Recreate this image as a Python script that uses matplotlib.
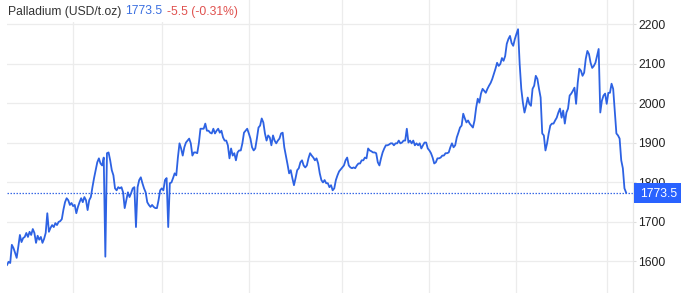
import numpy as np
import matplotlib.pyplot as plt
from matplotlib.patches import Rectangle
from matplotlib.transforms import blended_transform_factory

# Palladium price (USD/t.oz), equally spaced samples
price = [
    # first stretch
    1590, 1598, 1595, 1641, 1633, 1621, 1608, 1636, 1666, 1648, 1658, 1661, 1671, 1661,
    1674, 1666, 1681, 1671, 1646, 1664, 1654, 1661, 1646, 1656, 1671, 1721, 1674, 1684,
    1691, 1686, 1696, 1691, 1699, 1701, 1706, 1730, 1749, 1759, 1754, 1742, 1747, 1739,
    1742, 1721, 1737, 1749, 1759, 1749, 1762, 1754, 1729, 1754, 1762, 1787, 1810, 1830,
    1850, 1860, 1847, 1842, 1862, 1611, 1873, 1875, 1855, 1830, 1817, 1784, 1779, 1787,
    # second
    1784, 1787, 1774, 1734, 1754, 1774, 1762, 1772, 1784, 1787, 1686, 1787, 1805, 1812,
    1797, 1784, 1774, 1749, 1742, 1737, 1742, 1737, 1734, 1734, 1754, 1779, 1784, 1779,
    1805, 1810, 1686, 1797, 1799, 1810, 1822, 1817, 1862, 1898, 1885, 1867, 1888, 1900,
    1905, 1910, 1898, 1867, 1875, 1875, 1873, 1898, 1935, 1935, 1935, 1948, 1930, 1930,
    1925, 1923, 1935, 1923, 1930, 1935, 1925,
    # third
    1930, 1913, 1905, 1905, 1893, 1860, 1885, 1867, 1873, 1855, 1875, 1880, 1880, 1898,
    1925, 1930, 1935, 1923, 1910, 1888, 1880, 1885, 1910, 1938, 1943, 1961, 1951, 1923,
    1905, 1918, 1913, 1893, 1918, 1905, 1898, 1905, 1910, 1923, 1925, 1888, 1867, 1845,
    1822, 1830, 1810, 1792, 1810, 1830, 1835, 1850, 1855, 1842, 1837, 1842, 1860, 1873,
    1867, 1862, 1855, 1860, 1847, 1822, 1805, 1799, 1805, 1797, 1797, 1787, 1792, 1779,
    1784, 1805, 1817, 1827,
    # fourth
    1832, 1837, 1842, 1855, 1862, 1842, 1837, 1835, 1837, 1835, 1842, 1847, 1847, 1855,
    1855, 1862, 1860, 1885, 1880, 1878, 1875, 1875, 1873, 1850, 1842, 1860, 1875, 1885,
    1893, 1893, 1895, 1898, 1898, 1893, 1898, 1898, 1905, 1898, 1900, 1905, 1905, 1935,
    1900, 1905, 1898, 1905, 1893, 1898, 1893, 1898, 1885, 1893, 1900, 1900, 1885, 1880,
    1873, 1862, 1847, 1850, 1860, 1860, 1862, 1867, 1867, 1873, 1873, 1875,
    # fifth
    1888, 1898, 1888, 1893, 1913, 1925, 1938, 1943, 1973, 1961, 1951, 1956, 1948, 1943,
    1938, 1956, 1988, 2011, 2001, 2024, 2036, 2031, 2026, 2036, 2044, 2051, 2061, 2074,
    2087, 2102, 2094, 2099, 2114, 2107, 2119, 2150, 2162, 2170, 2152, 2145, 2162, 2175,
    2187, 2099, 2036, 2001, 1976, 1993, 2014, 1998, 1993, 2036, 2044, 2069, 2061, 2036,
    2014,
    # last
    1923, 1918, 1880, 1898, 1923, 1943, 1948, 1948, 1956, 1963, 1976, 1986, 1963, 1981,
    1948, 1976, 1986, 2019, 2024, 2031, 2039, 1998, 2051, 2087, 2082, 2069, 2077, 2112,
    2132, 2124, 2102, 2089, 2094, 2102, 2119, 2137, 1976, 2006, 2019, 2024, 1998, 2026,
    2026, 2049, 2036, 1981, 1923, 1918, 1910, 1855, 1835, 1784, 1773.5,
]
month_starts = [41, 96, 150, 208, 262, 316, 372]
yticks = [1600, 1700, 1800, 1900, 2000, 2100, 2200]
last_price = 1773.5
change_text = "-5.5 (-0.31%)"
title_text = "Palladium (USD/t.oz)"

line_blue = "#2d62e3"
grid_col = "#ececec"

plt.rcParams["font.family"] = ["Liberation Sans", "DejaVu Sans"]

W, H = 681, 293
fig = plt.figure(figsize=(W / 100, H / 100), dpi=100)
ax = fig.add_axes([7 / W, 0, (633 - 7) / W, 1])

x = np.arange(len(price))
ax.plot(x, price, color=line_blue, lw=1.3, zorder=3)
ax.axhline(last_price, color="#3a6ae6", lw=0.9, ls=(0, (1.2, 1.2)), zorder=2)

ax.set_xlim(0, (len(price) - 1) + 4.3)
ax.set_ylim(1519, 2261)

ax.set_xticks(month_starts)
ax.set_xticklabels([])
ax.set_yticks(yticks)
ax.yaxis.tick_right()
ax.tick_params(axis="x", length=0)
ax.tick_params(axis="y", length=2, width=0.8, color="#dddddd", pad=2,
               labelsize=8.7, labelcolor="#222222")
ax.grid(True, color=grid_col, lw=0.9)
ax.set_axisbelow(True)

for s in ["top", "left", "bottom"]:
    ax.spines[s].set_visible(False)
ax.spines["right"].set_color("#e6e6e6")
ax.spines["right"].set_linewidth(0.9)

# white strip behind the title row
fig.patches.append(Rectangle((0, 1 - 22 / H), 245 / W, 22 / H, transform=fig.transFigure,
                             fc="white", ec="none", zorder=5))
ty = 1 - 14.5 / H
fig.text(8 / W, ty, title_text, fontsize=8.7, color="#333333", va="baseline", zorder=6)
fig.text(125 / W, ty, f"{last_price}", fontsize=8.7, color="#3b6fe0", va="baseline", zorder=6)
fig.text(167 / W, ty, change_text, fontsize=8.7, color="#e0514e", va="baseline", zorder=6)

# last price tag on the axis
tr = blended_transform_factory(fig.transFigure, ax.transData)
half = 10 * (2261 - 1519) / H
fig.patches.append(Rectangle((634 / W, last_price - half), 47 / W, 2 * half, transform=tr,
                             fc="#2962ff", ec="none", zorder=5))
fig.text(640 / W, last_price, f"{last_price}", transform=tr, fontsize=8.7, color="white",
         va="center_baseline", zorder=6)

fig.savefig("out.png", dpi=100)
